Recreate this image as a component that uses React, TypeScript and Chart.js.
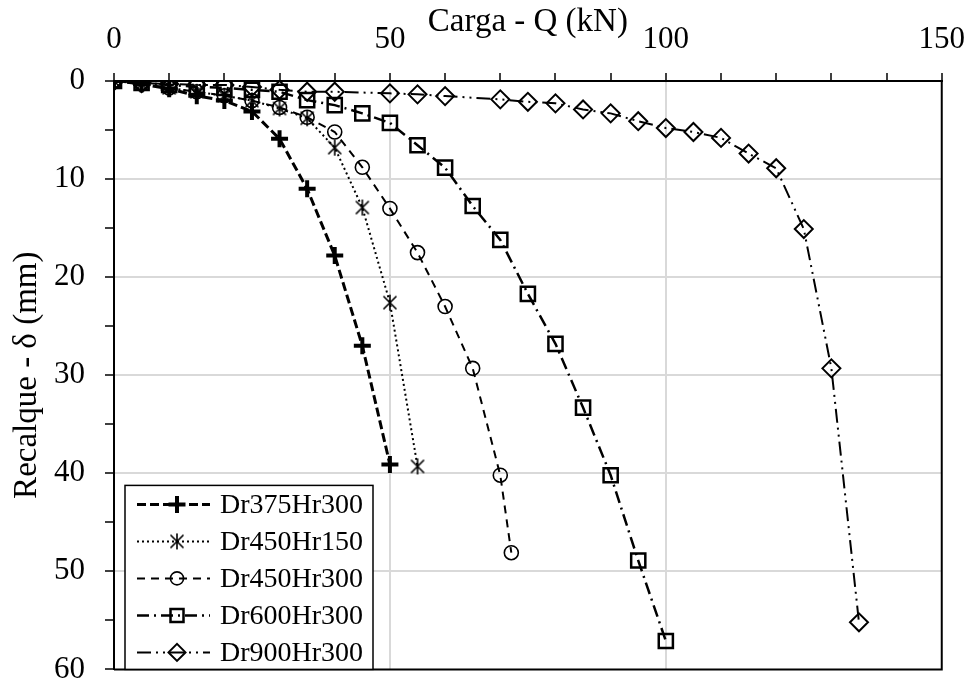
import React, { useEffect, useRef } from 'react';
import { Chart, registerables } from 'chart.js';

Chart.register(...registerables);

// ---- data ----
const seriesLabels = ['Dr375Hr300', 'Dr450Hr150', 'Dr450Hr300', 'Dr600Hr300', 'Dr900Hr300'];

const load1 = [0, 5, 10, 15, 20, 25, 30, 35, 40, 45, 50];
const settle1 = [0, 0.3, 0.8, 1.5, 2.0, 3.1, 5.9, 11.0, 17.8, 27.0, 39.1];

const load2 = [0, 5, 10, 15, 20, 25, 30, 35, 40, 45, 50, 55];
const settle2 = [0, 0.3, 0.7, 1.1, 1.5, 2.0, 2.8, 3.8, 6.8, 12.9, 22.6, 39.3];

const load3 = [0, 5, 10, 15, 20, 25, 30, 35, 40, 45, 50, 55, 60, 65, 70, 72];
const settle3 = [0, 0.3, 0.7, 1.1, 1.5, 2.0, 2.7, 3.7, 5.2, 8.8, 13.0, 17.5, 23.0, 29.3, 40.2, 48.1];

const load4 = [0, 5, 10, 15, 20, 25, 30, 35, 40, 45, 50, 55, 60, 65, 70, 75, 80, 85, 90, 95, 100];
const settle4 = [0, 0.2, 0.4, 0.6, 0.7, 0.9, 1.1, 1.95, 2.46, 3.3, 4.27, 6.55, 8.84, 12.75, 16.2, 21.7, 26.8, 33.3, 40.2, 48.9, 57.1];

const load5 = [0, 5, 10, 15, 20, 25, 30, 35, 40, 50, 55, 60, 70, 75, 80, 85, 90, 95, 100, 105, 110, 115, 120, 125, 130, 135];
const settle5 = [0, 0.2, 0.3, 0.4, 0.4, 0.6, 0.9, 1.1, 1.1, 1.26, 1.36, 1.54, 1.87, 2.12, 2.28, 2.9, 3.3, 4.1, 4.8, 5.2, 5.8, 7.4, 8.9, 15.1, 29.3, 55.2];

const xTickLabels = [0, 50, 100, 150];
const yTickLabels = [0, 10, 20, 30, 40, 50, 60];

const FONT = '"Liberation Serif", "Times New Roman", serif';

type Marker = 'plus' | 'asterisk' | 'circle' | 'square' | 'diamond';
const markerKinds: Marker[] = ['plus', 'asterisk', 'circle', 'square', 'diamond'];

function makeAsterisk(): HTMLCanvasElement {
  const c = document.createElement('canvas');
  c.width = 18;
  c.height = 18;
  const g = c.getContext('2d')!;
  g.strokeStyle = '#000';
  g.lineWidth = 1.6;
  const m = 9;
  g.beginPath();
  g.moveTo(m - 6.5, m - 6.5); g.lineTo(m + 6.5, m + 6.5);
  g.moveTo(m + 6.5, m - 6.5); g.lineTo(m - 6.5, m + 6.5);
  g.moveTo(m, m - 8); g.lineTo(m, m + 8);
  g.stroke();
  return c;
}

function drawMarker(ctx: CanvasRenderingContext2D, kind: Marker, x: number, y: number, ast: HTMLCanvasElement) {
  ctx.save();
  ctx.strokeStyle = '#000';
  ctx.setLineDash([]);
  ctx.beginPath();
  if (kind === 'plus') {
    ctx.lineWidth = 4;
    ctx.moveTo(x - 8.5, y); ctx.lineTo(x + 8.5, y);
    ctx.moveTo(x, y - 8.5); ctx.lineTo(x, y + 8.5);
    ctx.stroke();
  } else if (kind === 'asterisk') {
    ctx.drawImage(ast, x - 9, y - 9);
  } else if (kind === 'circle') {
    ctx.lineWidth = 1.6;
    ctx.arc(x, y, 6.5, 0, Math.PI * 2);
    ctx.stroke();
  } else if (kind === 'square') {
    ctx.lineWidth = 2.5;
    ctx.rect(x - 6.5, y - 6.5, 13, 13);
    ctx.stroke();
  } else {
    ctx.lineWidth = 2;
    ctx.moveTo(x - 8.5, y); ctx.lineTo(x, y - 8.5); ctx.lineTo(x + 8.5, y); ctx.lineTo(x, y + 8.5);
    ctx.closePath();
    ctx.stroke();
  }
  ctx.restore();
}

function pts(xs: number[], ys: number[]) {
  return xs.map((x, i) => ({ x, y: ys[i] }));
}

export default function App() {
  const ref = useRef<HTMLCanvasElement | null>(null);

  useEffect(() => {
    if (!ref.current) return;
    const ast = makeAsterisk();

    const boxAndLegend = {
      id: 'boxAndLegend',
      afterDraw(chart: any) {
        const ctx: CanvasRenderingContext2D = chart.ctx;
        const a = chart.chartArea;
        ctx.save();
        ctx.strokeStyle = '#000';
        ctx.lineWidth = 2;
        ctx.beginPath();
        ctx.moveTo(a.right, a.top);
        ctx.lineTo(a.right, a.bottom);
        ctx.lineTo(a.left, a.bottom);
        ctx.stroke();

        const lx = a.left + 11;
        const lh = 184;
        const ly = a.bottom - lh;
        const lw = 248;
        ctx.fillStyle = '#fff';
        ctx.fillRect(lx, ly, lw, lh);
        ctx.lineWidth = 1.5;
        ctx.strokeRect(lx, ly, lw, lh);
        chart.data.datasets.forEach((ds: any, i: number) => {
          const y = ly + 19 + i * 37;
          ctx.strokeStyle = '#000';
          ctx.lineWidth = ds.borderWidth;
          ctx.setLineDash(ds.borderDash || []);
          ctx.beginPath();
          ctx.moveTo(lx + 12, y);
          ctx.lineTo(lx + 85, y);
          ctx.stroke();
          ctx.setLineDash([]);
          drawMarker(ctx, markerKinds[i], lx + 52, y, ast);
          ctx.fillStyle = '#000';
          ctx.font = `28px ${FONT}`;
          ctx.textBaseline = 'middle';
          ctx.textAlign = 'left';
          ctx.fillText(ds.label, lx + 95, y + 1);
        });
        ctx.restore();
      },
    };

    const common = {
      showLine: true,
      borderColor: '#000',
      pointBorderColor: '#000',
      pointBackgroundColor: 'rgba(0,0,0,0)',
      backgroundColor: 'rgba(0,0,0,0)',
      fill: false,
      tension: 0,
    };

    const chart = new Chart(ref.current, {
      type: 'scatter',
      data: {
        datasets: [
          { ...common, label: seriesLabels[0], data: pts(load1, settle1), borderWidth: 3, borderDash: [9, 4], pointStyle: 'cross', pointRadius: 8.5, pointBorderWidth: 4 },
          { ...common, label: seriesLabels[1], data: pts(load2, settle2), borderWidth: 2, borderDash: [2, 3], pointStyle: ast, pointRadius: 8, pointBorderWidth: 1 },
          { ...common, label: seriesLabels[2], data: pts(load3, settle3), borderWidth: 2, borderDash: [8, 6], pointStyle: 'circle', pointRadius: 7, pointBorderWidth: 1.6 },
          { ...common, label: seriesLabels[3], data: pts(load4, settle4), borderWidth: 2.5, borderDash: [12, 5, 2, 5], pointStyle: 'rect', pointRadius: 10, pointBorderWidth: 2.5 },
          { ...common, label: seriesLabels[4], data: pts(load5, settle5), borderWidth: 2, borderDash: [14, 5, 2, 5, 2, 5], pointStyle: 'rectRot', pointRadius: 9, pointBorderWidth: 2 },
        ] as any,
      },
      options: {
        animation: false,
        responsive: false,
        maintainAspectRatio: false,
        layout: { padding: { left: 0, top: 0, right: 29, bottom: 15 } },
        plugins: { legend: { display: false }, tooltip: { enabled: false } },
        scales: {
          x: {
            type: 'linear',
            position: 'top',
            min: 0,
            max: 150,
            afterFit: (s: any) => { s.height = 81; },
            ticks: {
              stepSize: 10,
              autoSkip: false,
              maxRotation: 0,
              padding: 15,
              color: '#000',
              font: { family: FONT, size: 31 },
              callback: (v: any) => (xTickLabels.includes(Number(v)) ? String(v) : ''),
            },
            grid: {
              color: (c: any) => {
                const v = c.tick ? c.tick.value : NaN;
                return xTickLabels.includes(v) && v !== 0 && v !== 150 ? '#d9d9d9' : 'rgba(0,0,0,0)';
              },
              lineWidth: 2,
              tickColor: '#000',
              tickLength: 8,
              tickWidth: 1.5,
            },
            border: { display: true, color: '#000', width: 2 },
            title: {
              display: true,
              text: 'Carga - Q (kN)',
              color: '#000',
              font: { family: FONT, size: 33 },
              padding: { top: 3, bottom: 0 },
            },
          },
          y: {
            type: 'linear',
            reverse: true,
            min: 0,
            max: 60,
            afterFit: (s: any) => { s.width = 114; },
            ticks: {
              stepSize: 5,
              autoSkip: false,
              padding: 20,
              color: '#000',
              font: { family: FONT, size: 31 },
              callback: (v: any) => (yTickLabels.includes(Number(v)) ? String(v) : ''),
            },
            grid: {
              color: (c: any) => {
                const v = c.tick ? c.tick.value : NaN;
                return yTickLabels.includes(v) && v !== 0 && v !== 60 ? '#d9d9d9' : 'rgba(0,0,0,0)';
              },
              lineWidth: 2,
              tickColor: '#000',
              tickLength: 9,
              tickWidth: 1.5,
            },
            border: { display: true, color: '#000', width: 2 },
            title: {
              display: true,
              text: 'Recalque - δ (mm)',
              color: '#000',
              font: { family: FONT, size: 33 },
              padding: { top: 8, bottom: 0 },
            },
          },
        },
      } as any,
      plugins: [boxAndLegend],
    });
    return () => chart.destroy();
  }, []);

  return (
    <div style={{ position: 'fixed', left: 0, top: 0, width: 980, height: 708, background: '#fff' }}>
      <canvas ref={ref} width={980} height={708} style={{ display: 'block' }} />
    </div>
  );
}
